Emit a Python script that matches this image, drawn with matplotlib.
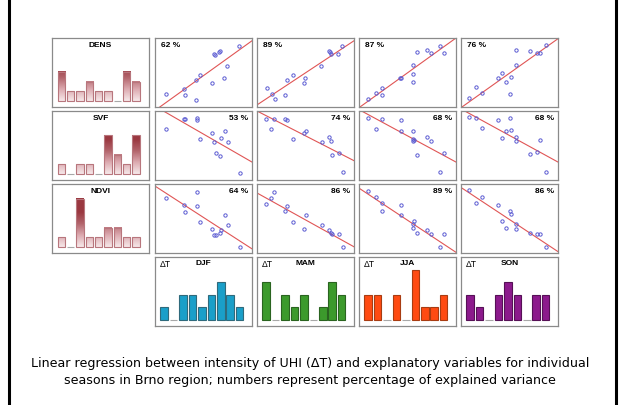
import matplotlib
matplotlib.use('Agg')
import matplotlib.pyplot as plt
from matplotlib.colors import LinearSegmentedColormap
from matplotlib.lines import Line2D
import numpy as np

# histograms of the explanatory variables (9 classes each)
var_names = ["DENS", "SVF", "NDVI"]
dens_counts = [3, 1, 1, 2, 1, 1, 0, 3, 2]
svf_counts = [1, 0, 1, 1, 0, 4, 2, 1, 4]
ndvi_counts = [1, 0, 5, 1, 1, 2, 2, 1, 1]

# histograms of dT per season
seasons = ["DJF", "MAM", "JJA", "SON"]
djf_counts = [1, 0, 2, 2, 1, 2, 3, 2, 1]
mam_counts = [3, 0, 2, 1, 2, 0, 1, 3, 2]
jja_counts = [2, 2, 0, 2, 0, 4, 1, 1, 2]
son_counts = [2, 1, 0, 2, 3, 2, 0, 2, 2]
season_colors = ["#1a9fc9", "#3c9a2c", "#ff4b12", "#8c1a8c"]
season_edges = ["#2f6a7c", "#2a6420", "#a83c12", "#561056"]

# explained variance (%), rows = variables, cols = seasons
explained = [[62, 89, 87, 76],
             [53, 74, 68, 68],
             [64, 86, 89, 86]]

# scatter points (scaled 0..1), one pair of lists per panel
dens_x = [
  [0.112, 0.298, 0.308, 0.424, 0.424, 0.464, 0.583, 0.610, 0.620, 0.664, 0.675, 0.746, 0.715, 0.868],
  [0.102, 0.156, 0.183, 0.288, 0.312, 0.369, 0.481, 0.498, 0.664, 0.739, 0.756, 0.766, 0.834, 0.878],
  [0.092, 0.175, 0.240, 0.240, 0.425, 0.432, 0.558, 0.558, 0.555, 0.596, 0.699, 0.747, 0.836, 0.877],
  [0.082, 0.154, 0.219, 0.384, 0.418, 0.466, 0.517, 0.507, 0.568, 0.562, 0.716, 0.784, 0.818, 0.880],
]
dens_y = [
  [0.190, 0.267, 0.167, 0.100, 0.390, 0.462, 0.343, 0.767, 0.757, 0.790, 0.805, 0.595, 0.414, 0.881],
  [0.271, 0.195, 0.110, 0.171, 0.395, 0.471, 0.348, 0.419, 0.600, 0.810, 0.790, 0.771, 0.767, 0.886],
  [0.119, 0.205, 0.276, 0.181, 0.414, 0.419, 0.610, 0.481, 0.357, 0.800, 0.819, 0.781, 0.890, 0.776],
  [0.124, 0.286, 0.210, 0.414, 0.486, 0.362, 0.433, 0.186, 0.610, 0.824, 0.805, 0.781, 0.786, 0.895],
]
svf_x = [
  [0.113, 0.301, 0.312, 0.428, 0.432, 0.469, 0.589, 0.610, 0.682, 0.723, 0.750, 0.630, 0.671, 0.877],
  [0.097, 0.148, 0.179, 0.286, 0.310, 0.369, 0.483, 0.500, 0.669, 0.745, 0.762, 0.769, 0.841, 0.886],
  [0.092, 0.175, 0.240, 0.432, 0.428, 0.555, 0.558, 0.562, 0.558, 0.699, 0.747, 0.599, 0.880, 0.839],
  [0.082, 0.154, 0.216, 0.384, 0.507, 0.418, 0.466, 0.517, 0.562, 0.568, 0.818, 0.781, 0.712, 0.880],
]
svf_y = [
  [0.735, 0.877, 0.877, 0.892, 0.868, 0.588, 0.686, 0.554, 0.613, 0.706, 0.549, 0.397, 0.353, 0.108],
  [0.882, 0.735, 0.887, 0.877, 0.863, 0.593, 0.686, 0.706, 0.554, 0.623, 0.564, 0.363, 0.397, 0.113],
  [0.901, 0.743, 0.891, 0.876, 0.713, 0.703, 0.599, 0.579, 0.559, 0.629, 0.569, 0.361, 0.396, 0.114],
  [0.906, 0.896, 0.748, 0.876, 0.896, 0.604, 0.708, 0.723, 0.629, 0.569, 0.574, 0.406, 0.371, 0.119],
]
ndvi_x = [
  [0.113, 0.301, 0.312, 0.428, 0.428, 0.469, 0.589, 0.610, 0.627, 0.671, 0.682, 0.723, 0.753, 0.877],
  [0.097, 0.148, 0.179, 0.286, 0.310, 0.369, 0.483, 0.500, 0.669, 0.745, 0.762, 0.769, 0.841, 0.886],
  [0.092, 0.175, 0.240, 0.240, 0.432, 0.428, 0.562, 0.558, 0.555, 0.596, 0.699, 0.747, 0.880, 0.839],
  [0.082, 0.154, 0.219, 0.384, 0.418, 0.466, 0.507, 0.517, 0.562, 0.568, 0.712, 0.781, 0.818, 0.880],
]
ndvi_y = [
  [0.790, 0.702, 0.595, 0.883, 0.688, 0.449, 0.346, 0.263, 0.263, 0.288, 0.327, 0.546, 0.400, 0.083],
  [0.707, 0.790, 0.888, 0.605, 0.688, 0.454, 0.351, 0.546, 0.405, 0.337, 0.288, 0.278, 0.278, 0.088],
  [0.896, 0.807, 0.718, 0.609, 0.698, 0.550, 0.460, 0.421, 0.356, 0.287, 0.337, 0.272, 0.272, 0.089],
  [0.906, 0.718, 0.812, 0.698, 0.460, 0.361, 0.614, 0.559, 0.342, 0.416, 0.292, 0.272, 0.277, 0.089],
]

# regression lines: value at x=0 and at x=1
dens_fit = [(-0.05, 0.96), (0.03, 0.96), (-0.01, 1.00), (-0.01, 0.99)]
svf_fit = [(1.07, 0.26), (1.00, 0.28), (1.02, 0.26), (1.03, 0.26)]
ndvi_fit = [(0.97, 0.06), (0.87, 0.09), (0.94, 0.01), (0.95, 0.02)]

caption = ("Linear regression between intensity of UHI (\u0394T) and explanatory variables for individual\n"
           "seasons in Brno region; numbers represent percentage of explained variance")

W, H = 620, 405
col_left = [52, 155, 257, 359, 461]
row_top = [38, 111, 184, 257]
PW, PH = 97, 69

fig = plt.figure(figsize=(W / 100, H / 100), dpi=100)
fig.patch.set_facecolor("white")


def panel(col, row):
  l, t = col_left[col], row_top[row]
  ax = fig.add_axes([l / W, 1 - (t + PH) / H, PW / W, PH / H])
  ax.set_xticks([])
  ax.set_yticks([])
  for s in ax.spines.values():
    s.set_color("#8a8a8a")
    s.set_linewidth(0.9)
  return ax


reds = LinearSegmentedColormap.from_list("reds", ["#f6e8e9", "#dcaab0", "#b2646b", "#9a3840"])


def var_hist(ax, counts, unit_top=6.5):
  xs = np.arange(len(counts))
  bars = ax.bar(xs, counts, width=0.8, color="none",
                edgecolor=["#b8767d" if c > 0 else "#a8a8a8" for c in counts], linewidth=0.8, zorder=3)
  for b, c in zip(bars, counts):
    if c == 0:
      continue
    grad = np.linspace(0, c, 60).reshape(-1, 1)
    ax.imshow(grad, extent=[b.get_x(), b.get_x() + b.get_width(), 0, c], origin="lower",
              aspect="auto", cmap=reds, vmin=0, vmax=3.6, zorder=2)
  ax.set_xlim(-1.0, 9.4)
  ax.set_ylim(-0.62, unit_top)


def season_hist(ax, counts, face, edge):
  xs = np.arange(len(counts))
  ax.bar(xs, counts, width=0.8, color=face,
         edgecolor=[edge if c > 0 else "#a8a8a8" for c in counts], linewidth=0.8)
  ax.set_xlim(-0.95, 9.3)
  ax.set_ylim(-0.48, 5.0)


hist_rows = [dens_counts, svf_counts, ndvi_counts]
xs_rows = [dens_x, svf_x, ndvi_x]
ys_rows = [dens_y, svf_y, ndvi_y]
fit_rows = [dens_fit, svf_fit, ndvi_fit]

for r, name in enumerate(var_names):
  ax = panel(0, r)
  var_hist(ax, hist_rows[r])
  ax.text(0.5, 0.94, name, transform=ax.transAxes, ha="center", va="top",
          fontsize=6, fontweight="bold", family="Liberation Sans")
  for c in range(4):
    ax = panel(c + 1, r)
    ax.plot(xs_rows[r][c], ys_rows[r][c], linestyle="none", marker="o", ms=2.4,
            mfc="none", mec="#5a5ad2", mew=0.7, zorder=3)
    y0, y1 = fit_rows[r][c]
    ax.plot([0, 1], [y0, y1], color="#e05555", lw=0.8, zorder=2)
    ax.set_xlim(0, 1)
    ax.set_ylim(0, 1)
    label = f"{explained[r][c]} %"
    if r == 0:
      ax.text(0.06, 0.94, label, transform=ax.transAxes, ha="left", va="top",
              fontsize=6, fontweight="bold", family="Liberation Sans")
    else:
      ax.text(0.96, 0.94, label, transform=ax.transAxes, ha="right", va="top",
              fontsize=6, fontweight="bold", family="Liberation Sans")

season_rows = [djf_counts, mam_counts, jja_counts, son_counts]
for c, name in enumerate(seasons):
  ax = panel(c + 1, 3)
  season_hist(ax, season_rows[c], season_colors[c], season_edges[c])
  ax.text(0.05, 0.95, "\u0394T", transform=ax.transAxes, ha="left", va="top",
          fontsize=6.2, family="Liberation Sans")
  ax.text(0.5, 0.96, name, transform=ax.transAxes, ha="center", va="top",
          fontsize=6, fontweight="bold", family="Liberation Sans")

fig.text(0.5, 1 - 372 / H, caption, ha="center", va="center", fontsize=9.1,
         linespacing=1.4, family="DejaVu Sans")

# black side frame
for xp in (9, 616):
  fig.add_artist(Line2D([xp / W, xp / W], [0, 1], color="black", lw=2.2))

fig.savefig("out.png", dpi=100)
plt.close(fig)
